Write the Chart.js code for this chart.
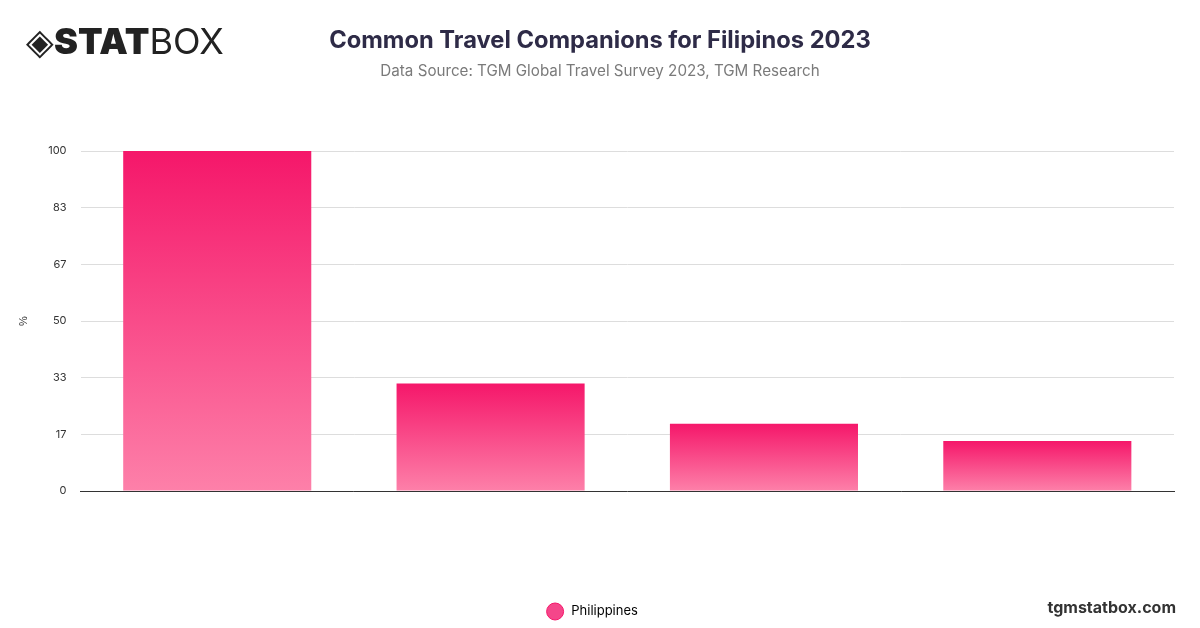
<!DOCTYPE html>
<html><head><meta charset="utf-8">
<script src="https://cdn.jsdelivr.net/npm/chart.js@4"></script>
<style>
body{margin:0;width:1200px;height:628px;background:#fff;font-family:Inter,"Noto Sans",sans-serif;overflow:hidden;position:relative}
#wrap{position:absolute;left:0;top:0;width:1200px;height:628px}
.t{position:absolute;left:0;width:1200px;text-align:center}
#title{top:25px;font-size:23.7px;font-weight:700;color:#2e2b47}
#sub{top:61px;font-size:15.2px;color:#7a7a7a}
#logo{position:absolute;left:26px;top:19px;font-size:36px;color:#222}
#logo b{font-weight:900}
#site{position:absolute;right:24px;top:597px;font-size:16px;font-weight:700;color:#333}
</style></head><body>
<div id="wrap"><canvas id="c" width="1200" height="628"></canvas></div>
<div id="logo">◈<b>STAT</b>BOX</div>
<div class="t" id="title">Common Travel Companions for Filipinos 2023</div>
<div class="t" id="sub">Data Source: TGM Global Travel Survey 2023, TGM Research</div>
<div id="site">tgmstatbox.com</div>
<script>
const categories=["Family","Partner","Friends","Alone"];
const seriesName="Philippines";
const values=[100,31.6,19.8,14.7];
const ctx=document.getElementById('c').getContext('2d');
function grad(c){const ch=c.chart,a=ch.chartArea;if(!a||c.parsed==null)return '#f5176a';const ys=ch.scales.y;const top=ys.getPixelForValue(c.parsed.y),bot=ys.getPixelForValue(0);const g=ch.ctx.createLinearGradient(0,top,0,bot);g.addColorStop(0,'#f5176a');g.addColorStop(1,'#fd80a9');return g;}
new Chart(ctx,{type:'bar',data:{labels:categories,datasets:[{label:seriesName,data:values,backgroundColor:grad,borderWidth:0,categoryPercentage:0.8,barPercentage:0.86}]},
options:{responsive:false,animation:false,
layout:{padding:{top:151,right:26,left:13,bottom:0}},
plugins:{legend:{position:'bottom',labels:{usePointStyle:true,pointStyle:'circle',boxWidth:12,boxHeight:12,padding:27,color:'#333',font:{size:13,family:'Inter'},generateLabels:(ch)=>[{text:' '+seriesName,fillStyle:'#f5468a',strokeStyle:'#f5176a',lineWidth:1,pointStyle:'circle'}]}},tooltip:{enabled:false}},
scales:{x:{grid:{display:false},border:{color:'#333',width:1},ticks:{display:false},afterFit:s=>{s.height+=79}},
y:{min:0,max:100,ticks:{stepSize:100/6,callback:v=>Math.round(v),color:'#333',font:{size:11,family:'Inter'},padding:14},grid:{color:'#ddd',drawTicks:false},border:{display:false},
title:{display:true,text:'%',color:'#333',font:{size:11}}}}}});
</script></body></html>
